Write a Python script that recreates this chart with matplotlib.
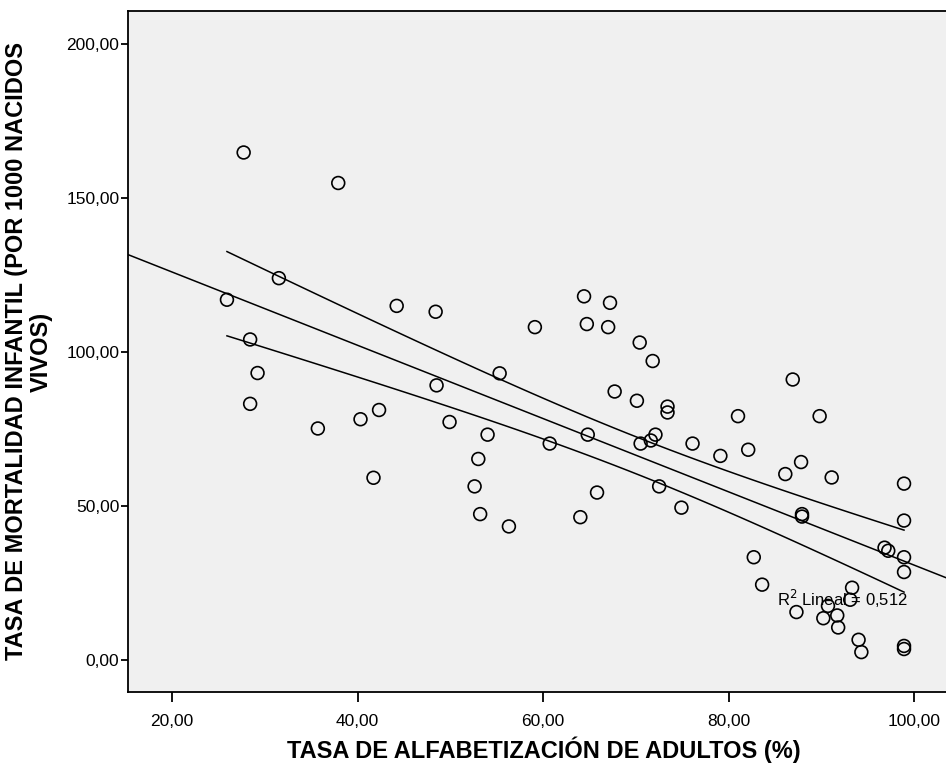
import matplotlib.pyplot as plt
import numpy as np

plt.rcParams['font.family'] = ['Liberation Sans', 'DejaVu Sans']

# literacy rate (%) vs infant mortality (per 1000 live births)
alfabetizacion = [
    27.7, 37.9, 31.5, 25.9, 28.4, 29.2, 28.4, 35.7, 44.2, 48.4,
    40.3, 42.3, 41.7, 48.5, 49.9, 55.3, 54.0, 53.0, 52.6, 53.2,
    56.3, 59.1, 60.7, 64.4, 64.7, 67.2, 67.0, 70.4, 71.8, 67.7,
    70.1, 73.4, 73.4, 64.8, 70.5, 71.6, 72.1, 76.1, 65.8, 64.0,
    72.5, 74.9, 79.1, 81.0, 82.1, 86.9, 86.1, 87.8, 89.8, 91.1,
    87.9, 87.9, 98.9, 98.9, 96.8, 97.2, 98.9, 98.9, 82.7, 83.6,
    87.3, 93.3, 93.1, 90.7, 91.7, 90.2, 91.8, 94.0, 94.3, 98.9,
    98.9,
]
mortalidad = [
    164.7, 154.8, 123.9, 116.9, 104.0, 93.1, 83.1, 75.1, 114.9, 113.0,
    78.1, 81.1, 59.1, 89.1, 77.2, 93.0, 73.1, 65.2, 56.3, 47.3,
    43.3, 108.0, 70.2, 118.0, 109.0, 115.9, 108.0, 103.0, 97.0, 87.1,
    84.1, 82.2, 80.3, 73.1, 70.2, 71.2, 73.1, 70.2, 54.3, 46.3,
    56.3, 49.4, 66.2, 79.1, 68.2, 91.0, 60.3, 64.2, 79.1, 59.2,
    47.3, 46.5, 57.2, 45.2, 36.4, 35.4, 33.3, 28.5, 33.3, 24.4,
    15.5, 23.4, 19.5, 17.5, 14.4, 13.5, 10.5, 6.5, 2.5, 4.5,
    3.5,
]
r2_text = 'R$^2$ Lineal = 0,512'

x = np.array(alfabetizacion)
y = np.array(mortalidad)

# linear fit + 95% CI of the mean
b, a = np.polyfit(x, y, 1)
n = len(x)
resid = y - (a + b * x)
s = np.sqrt(np.sum(resid ** 2) / (n - 2))
sxx = np.sum((x - x.mean()) ** 2)
t_crit = 1.995

fig = plt.figure(figsize=(9.46, 7.67), dpi=100)
ax = fig.add_axes([0.135, 0.098, 0.88, 0.8875])
ax.set_facecolor('#f0f0f0')

xlim = (15.2, 15.2 + 0.88 * 946 / 9.275)
ax.set_xlim(xlim)
ax.set_ylim(-10.4, 210.6)

xx = np.linspace(xlim[0], xlim[1], 50)
ax.plot(xx, a + b * xx, color='black', lw=1.1)
xc = np.linspace(x.min(), x.max(), 50)
half = t_crit * s * np.sqrt(1 / n + (xc - x.mean()) ** 2 / sxx)
ax.plot(xc, a + b * xc + half, color='black', lw=1.1)
ax.plot(xc, a + b * xc - half, color='black', lw=1.1)

ax.scatter(x, y, s=85, facecolors='none', edgecolors='black', linewidths=1.2, zorder=3)

ax.text(85.2, 19.8, r2_text, fontsize=12, va='center', ha='left', zorder=2)

ax.set_xticks([20, 40, 60, 80, 100])
ax.set_xticklabels(['20,00', '40,00', '60,00', '80,00', '100,00'])
ax.set_yticks([0, 50, 100, 150, 200])
ax.set_yticklabels(['0,00', '50,00', '100,00', '150,00', '200,00'])
ax.tick_params(direction='out', width=1.3, labelsize=12.5, colors='black')
ax.tick_params(axis='y', length=5, pad=1)
ax.tick_params(axis='x', length=7, pad=9)
for side in ['left', 'bottom', 'top']:
    ax.spines[side].set_linewidth(1.3)
ax.spines['right'].set_visible(False)

ax.set_xlabel('TASA DE ALFABETIZACIÓN DE ADULTOS (%)', fontsize=17, fontweight='bold', labelpad=5)
ax.set_ylabel('TASA DE MORTALIDAD INFANTIL (POR 1000 NACIDOS\nVIVOS)', fontsize=17,
              fontweight='bold', labelpad=10, linespacing=1.05)

fig.savefig('out.png', dpi=100)
